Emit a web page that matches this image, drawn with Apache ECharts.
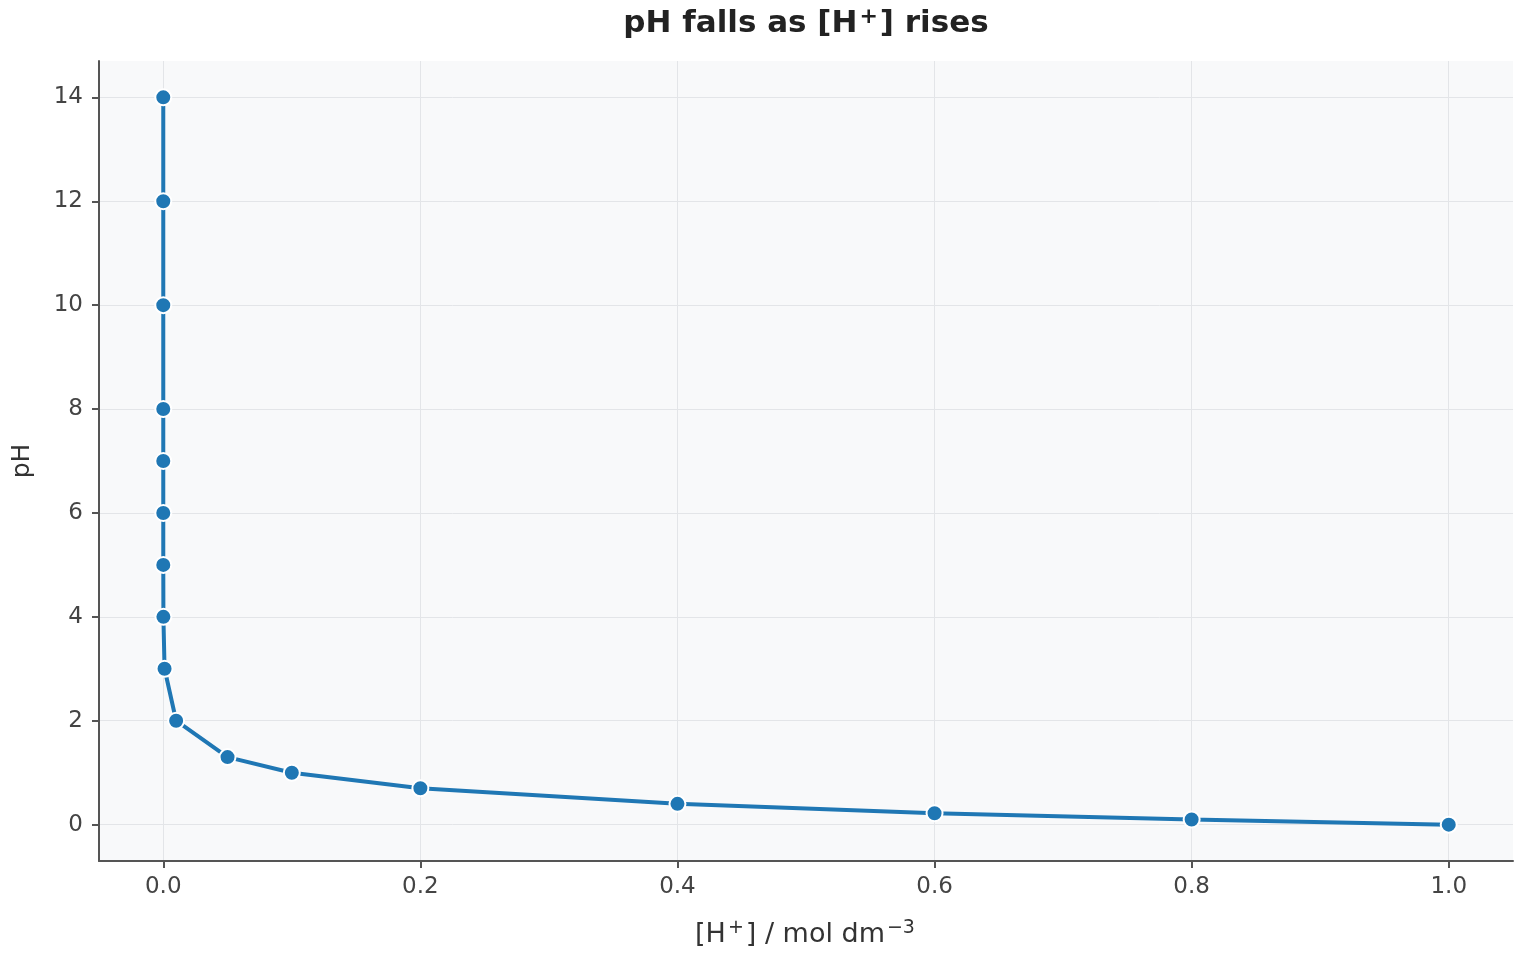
<!DOCTYPE html>
<html>
<head>
<meta charset="utf-8">
<script src="https://cdn.jsdelivr.net/npm/echarts@6/dist/echarts.min.js"></script>
<style>
html,body{margin:0;padding:0;background:#fff;}
#c{width:1520px;height:960px;}
</style>
</head>
<body>
<div id="c"></div>
<script>
var hConc = [1e-14, 1e-12, 1e-10, 1e-8, 1e-7, 1e-6, 1e-5, 1e-4, 1e-3, 0.01, 0.05, 0.1, 0.2, 0.4, 0.6, 0.8, 1.0];
var pHValues = [14, 12, 10, 8, 7, 6, 5, 4, 3, 2, 1.30, 1.00, 0.70, 0.40, 0.22, 0.10, 0];
var xTicks = [0, 0.2, 0.4, 0.6, 0.8, 1.0];
var yTicks = [0, 2, 4, 6, 8, 10, 12, 14];

var points = hConc.map(function (x, i) { return [x, pHValues[i]]; });
var font = 'DejaVu Sans';
var chart = echarts.init(document.getElementById('c'), null, {renderer: 'canvas'});
chart.setOption({
  backgroundColor: '#ffffff',
  animation: false,
  title: {
    text: 'pH falls as [H{sup|+}] rises',
    left: 806,
    textAlign: 'center',
    top: 6,
    padding: 0,
    textStyle: {fontFamily: font, fontSize: 31, fontWeight: 'bold', color: '#222222', lineHeight: 36,
      rich: {sup: {fontFamily: font, fontSize: 22, fontWeight: 'bold', color: '#222222', verticalAlign: 'top', lineHeight: 36, padding: [0, 2, 12, 2]}}}
  },
  grid: {left: 99, right: 7, top: 61, bottom: 99, show: true, backgroundColor: '#f8f9fa', borderWidth: 0},
  xAxis: {
    type: 'value',
    min: -0.05, max: 1.05,
    name: '[H{sup|+}] / mol dm{sup|\u22123}',
    nameLocation: 'middle',
    nameGap: 58,
    nameTextStyle: {fontFamily: font, fontSize: 27, color: '#333333', lineHeight: 31,
      rich: {sup: {fontFamily: font, fontSize: 19, color: '#333333', verticalAlign: 'top', lineHeight: 31, padding: [0, 2, 10, 2]}}},
    axisLine: {show: true, onZero: false, lineStyle: {color: '#555555', width: 2}},
    axisTick: {show: true, length: 7, lineStyle: {color: '#555555', width: 2}, customValues: xTicks},
    axisLabel: {fontFamily: font, fontSize: 23, color: '#444444', margin: 15, customValues: xTicks,
      formatter: function (v) { return v.toFixed(1); }},
    splitLine: {show: true, lineStyle: {color: '#e3e5e8', width: 1}}
  },
  yAxis: {
    type: 'value',
    min: -0.7, max: 14.7,
    name: 'pH',
    nameLocation: 'middle',
    nameGap: 64,
    nameRotate: 90,
    nameTextStyle: {fontFamily: font, fontSize: 25, color: '#333333'},
    axisLine: {show: true, onZero: false, lineStyle: {color: '#555555', width: 2}},
    axisTick: {show: true, length: 7, lineStyle: {color: '#555555', width: 2}, customValues: yTicks},
    axisLabel: {fontFamily: font, fontSize: 23, color: '#444444', margin: 16, customValues: yTicks},
    splitLine: {show: true, lineStyle: {color: '#e3e5e8', width: 1}}
  },
  series: [{
    type: 'line',
    data: points,
    symbol: 'circle',
    symbolSize: 16,
    lineStyle: {color: '#1f77b4', width: 4},
    itemStyle: {color: '#1f77b4', borderColor: '#ffffff', borderWidth: 2},
    z: 3
  }]
});
</script>
</body>
</html>
